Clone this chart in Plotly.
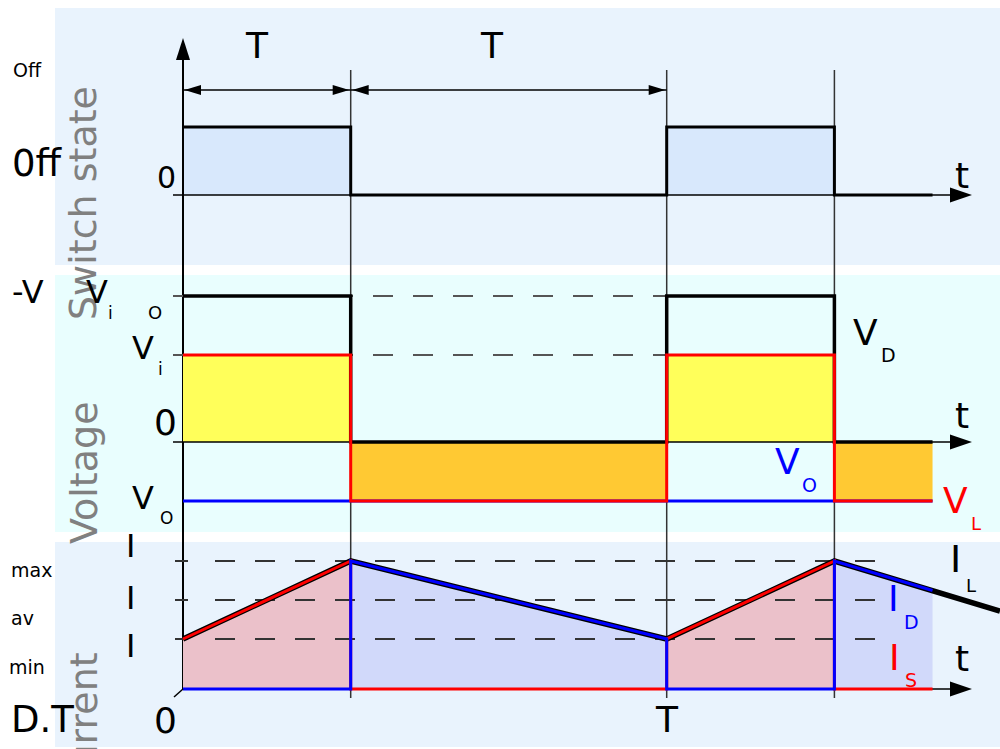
import plotly.graph_objects as go

W, H = 1000, 749

# ---- waveforms, time in units of the switching period T ----
D = 0.3467          # duty cycle
T_END = 1.5496      # shaded waveforms stop here
T_EDGE = 1.689      # inductor current runs on to the right edge

# switch state: 1 = on, 0 = off
sw_t = [0, D, D, 1, 1, 1 + D, 1 + D, T_END]
sw_v = [1, 1, 0, 0, 1, 1, 0, 0]

# voltages (output voltage is negative)
VI = 1.475
VO = 1.0
v_t = [0, D, D, 1, 1, 1 + D, 1 + D, T_END]
vd_v = [VI + VO, VI + VO, 0, 0, VI + VO, VI + VO, 0, 0]   # diode
vl_v = [VI, VI, -VO, -VO, VI, VI, -VO, -VO]               # inductor
vo_t = [0, T_END]
vo_v = [-VO, -VO]

# currents
I_MIN, I_MAX = 1.0, 2.56
I_AV = (I_MIN + I_MAX) / 2
il_t = [0, D, 1, 1 + D, T_EDGE]
il_v = [I_MIN, I_MAX, I_MIN, I_MAX, 1.56]
i_t = [0, D, D, 1, 1, 1 + D, 1 + D, T_END]
is_v = [I_MIN, I_MAX, 0, 0, I_MIN, I_MAX, 0, 0]
id_v = [0, 0, I_MAX, I_MIN, 0, 0, I_MAX, 1.97]

# ---- page geometry (pixels) ----
X0_PX, PX_PER_T = 183, 483.7
SW_ZERO, SW_SCALE = 195, 68
V_ZERO, V_SCALE = 442, 59
I_ZERO, I_SCALE = 689, 50


def t_of(px):
    return (px - X0_PX) / PX_PER_T


def sw_of(px):
    return (SW_ZERO - px) / SW_SCALE


def rng(zero_px, scale):
    return [(zero_px - H) / scale, zero_px / scale]


def py(px):
    return 1 - px / H


FONT = "DejaVu Sans"
BLACK, RED, BLUE = "#000000", "#ff0000", "#0000ff"

fig = go.Figure()


def line(x, y, axis, color, width, dash=None, fill=None, fillcolor=None):
    fig.add_trace(go.Scatter(
        x=x, y=y, yaxis=axis, mode="lines", hoverinfo="skip",
        line=dict(color=color, width=width, dash=dash),
        fill=fill, fillcolor=fillcolor))


# fills
line(sw_t, sw_v, "y", "rgba(0,0,0,0)", 0, fill="tozeroy", fillcolor="#d8e8fc")
line(v_t, [max(v, 0) for v in vl_v], "y2", "rgba(0,0,0,0)", 0,
     fill="tozeroy", fillcolor="#ffff5a")
line(v_t, [min(v, 0) for v in vl_v], "y2", "rgba(0,0,0,0)", 0,
     fill="tozeroy", fillcolor="#ffc933")
line(i_t, is_v, "y3", "rgba(0,0,0,0)", 0, fill="tozeroy", fillcolor="#ebc1ca")
line(i_t, id_v, "y3", "rgba(0,0,0,0)", 0, fill="tozeroy", fillcolor="#d1d9fa")

# dashed reference levels
for lvl in (VI + VO, VI):
    line([t_of(173), 1 + D], [lvl, lvl], "y2", "#555555", 2, dash="20px,20px")
for lvl in (I_MAX, I_AV, I_MIN):
    line([t_of(215), t_of(876)], [lvl, lvl], "y3", "#333333", 2, dash="20px,20px")
    line([t_of(175), t_of(188)], [lvl, lvl], "y3", "#333333", 2)

# time axes
AX_TIP = t_of(972)
line([t_of(173), t_of(955)], [0, 0], "y", BLACK, 1.5)
line([t_of(173), t_of(955)], [0, 0], "y2", BLACK, 1.5)
line([0, t_of(955)], [0, 0], "y3", BLACK, 1.5)
# vertical axis, from the arrowhead down to the current zero
line([0, 0], [sw_of(58), sw_of(I_ZERO)], "y", BLACK, 2)

# waveforms
line(sw_t, sw_v, "y", BLACK, 3)
line(v_t, vd_v, "y2", BLACK, 3.5)
line(vo_t, vo_v, "y2", BLUE, 3)
line(v_t, vl_v, "y2", RED, 3)
line(il_t, il_v, "y3", BLACK, 5.5)
line(i_t, is_v, "y3", RED, 3)
line(i_t, id_v, "y3", BLUE, 3)

shapes = []
# panel backgrounds
for top, bot, col in ((8, 265, "#e9f3fd"), (275, 532, "#e9fefe"), (542, 747, "#e9f3fd")):
    shapes.append(dict(type="rect", xref="paper", yref="paper", x0=55 / W, x1=1,
                       y0=py(bot), y1=py(top), fillcolor=col, line_width=0, layer="below"))
# switching instants
for tk in (D, 1, 1 + D):
    shapes.append(dict(type="line", xref="x", yref="paper", x0=tk, x1=tk,
                       y0=py(698), y1=py(70), line=dict(color="#333333", width=1.5),
                       layer="below"))


def head(xa, ya, yref, path):
    shapes.append(dict(type="path", xref="x", yref=yref, xsizemode="pixel",
                       ysizemode="pixel", xanchor=xa, yanchor=ya, path=path,
                       fillcolor=BLACK, line_width=0, layer="above"))


# arrowheads of the time axes and the vertical axis
head(AX_TIP, 0, "y", "M 0 0 L -22 7.5 L -22 -7.5 Z")
head(AX_TIP, 0, "y2", "M 0 0 L -22 7.5 L -22 -7.5 Z")
head(AX_TIP, 0, "y3", "M 0 0 L -22 7.5 L -22 -7.5 Z")
head(0, sw_of(38), "y", "M 0 0 L -7 -22 L 7 -22 Z")
shapes.append(dict(type="path", xref="x", yref="y3", xsizemode="pixel",
                   ysizemode="pixel", xanchor=0, yanchor=0, path="M 0 0 L -9 -8",
                   line=dict(color=BLACK, width=1.5), layer="above"))

# period dimension arrows
DIM = sw_of(90)
for a, b in ((0, D), (D, 1)):
    shapes.append(dict(type="line", xref="x", yref="y", x0=a, x1=b, y0=DIM, y1=DIM,
                       line=dict(color=BLACK, width=1.5), layer="above"))
    head(a, DIM, "y", "M 1.5 0 L 18 5 L 18 -5 Z")
    head(b, DIM, "y", "M -1.5 0 L -18 5 L -18 -5 Z")

fig.update_layout(shapes=shapes)


def label(text, x_px, y_px, size, color=BLACK, angle=0):
    fig.add_annotation(text=text, x=x_px / W, y=py(y_px), xref="paper", yref="paper",
                       showarrow=False, xanchor="center", yanchor="middle",
                       textangle=angle, font=dict(family=FONT, size=size, color=color))


GRAY = "#808080"
label("Switch state", 83, 203, 38, GRAY, -90)
label("Voltage", 84, 473, 38, GRAY, -90)
label("Current", 84, 724, 38, GRAY, -90)

label("Off", 27, 70, 19)
label("0ff", 37, 164, 37)
label("0", 166, 178, 30)
label("T", 257, 46, 36)
label("T", 492, 46, 36)
for yy in (176, 415, 658):
    label("t", 962, yy, 36)

label("-V", 28, 292, 32)
label("V", 97, 292, 32)
label("i", 110, 313, 17)
label("O", 155, 312, 18)
label("V", 143, 348, 32)
label("i", 160, 369, 17)
label("0", 165, 422, 36)
label("V", 143, 498, 32)
label("O", 166, 518, 17)

label("V", 865, 332, 36)
label("D", 888, 355, 19)
label("V", 787, 461, 36, BLUE)
label("O", 809, 485, 19, BLUE)
label("V", 955, 500, 36, RED)
label("L", 976, 523, 18, RED)

for yy in (546, 598, 646):
    label("I", 130, yy, 32)
label("max", 31, 570, 19)
label("av", 22, 618, 19)
label("min", 27, 667, 19)
label("D.T", 42, 719, 37)
label("0", 165, 720, 36)
label("T", 667, 719, 36)

label("I", 955, 559, 38)
label("L", 971, 585, 18)
label("I", 893, 598, 36, BLUE)
label("D", 911, 622, 19, BLUE)
label("I", 894, 657, 36, RED)
label("S", 911, 680, 19, RED)

hidden = dict(visible=False, fixedrange=True)
fig.update_layout(
    width=W, height=H, margin=dict(l=0, r=0, t=0, b=0),
    paper_bgcolor="white", plot_bgcolor="white", showlegend=False,
    xaxis=dict(range=[t_of(0), t_of(W)], **hidden),
    yaxis=dict(range=rng(SW_ZERO, SW_SCALE), domain=[0, 1], **hidden),
    yaxis2=dict(range=rng(V_ZERO, V_SCALE), overlaying="y", **hidden),
    yaxis3=dict(range=rng(I_ZERO, I_SCALE), overlaying="y", **hidden),
)

fig.write_html("out.html")
